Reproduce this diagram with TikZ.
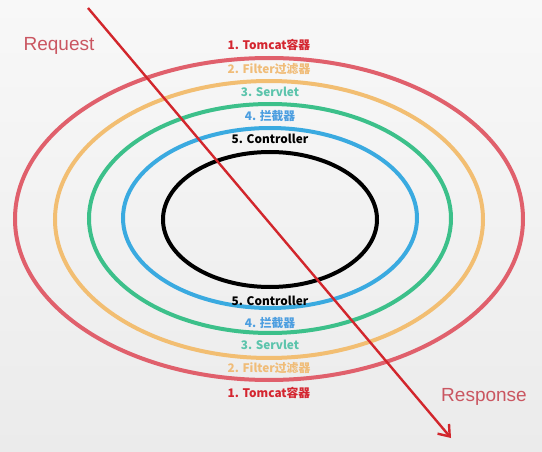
\documentclass[tikz,border=0pt]{standalone}
\usepackage{fontspec}
\setmainfont{Liberation Sans}
\newfontfamily\cjk{Noto Sans CJK SC}
\usepackage{tikz}
\usetikzlibrary{arrows.meta,shapes.geometric,calc,positioning}
\definecolor{ringred}{HTML}{E0606C}
\definecolor{ringorange}{HTML}{F2BE72}
\definecolor{ringgreen}{HTML}{3CC08A}
\definecolor{ringblue}{HTML}{3AAAE0}
\definecolor{txtred}{HTML}{D42630}
\definecolor{txtorange}{HTML}{F0BC78}
\definecolor{txtgreen}{HTML}{5CC4AC}
\definecolor{txtblue}{HTML}{4C9EE0}
\definecolor{flowred}{HTML}{D2262C}
\definecolor{bgtop}{HTML}{F8F8F8}
\definecolor{bgbottom}{HTML}{EBEBEB}
\tikzstyle{ring}  =[ellipse, draw, line width=4pt, inner sep=0pt,
                    outer sep=0pt]
\tikzstyle{layer} =[inner sep=1pt, fill=none, draw=none,
                    font=\cjk\bfseries\fontsize{11.8}{12}\selectfont]
\tikzstyle{flow}  =[draw=flowred, line width=2.4pt,
                    -{Straight Barb[length=10pt,width=15pt,line width=2.4pt]}]
\tikzstyle{way}   =[inner sep=1pt, text=ringred!90!black,
                    font=\fontsize{19}{20}\selectfont]

\begin{document}
\begin{tikzpicture}[x=1pt, y=-1pt]
            \shade[top color=bgtop, bottom color=bgbottom] (0,0) rectangle (542,452);
            \useasboundingbox (0,0) rectangle (542,452);
            \begin{scope}
                \node (e1) [ring, draw=ringred, minimum width=508pt, minimum height=322pt] at (269,219) {};
                \node (e2) [ring, draw=ringorange, minimum width=428pt, minimum height=277pt] at (269,219.5) {};
                \node (e3) [ring, draw=ringgreen, minimum width=362pt, minimum height=229pt] at (270,218.5) {};
                \node (e4) [ring, draw=ringblue, minimum width=294pt, minimum height=180pt] at (270,218) {};
                \node (e5) [ring, draw=black, minimum width=214pt, minimum height=135pt] at (270,219.5) {};
                % labels above the rings
                \node (t1) [layer, text=txtred] at ($(e1.north)+(0,-13)$) {1. Tomcat容器};
                \node (t2) [layer, text=txtorange] at ($(e2.north)+(0,-11.5)$) {2. Filter过滤器};
                \node (t3) [layer, text=txtgreen] at ($(e3.north)+(0,-12)$) {3. Servlet};
                \node (t4) [layer, text=txtblue] at ($(e4.north)+(0,-11.5)$) {4. 拦截器};
                \node (t5) [layer, text=black] at ($(e5.north)+(0,-13)$) {5. Controller};
                % labels below the rings
                \node (b5) [layer, text=black] at ($(e5.south)+(0,13.5)$) {5. Controller};
                \node (b4) [layer, text=txtblue] at ($(e4.south)+(0,15)$) {4. 拦截器};
                \node (b3) [layer, text=txtgreen] at ($(e3.south)+(0,12)$) {3. Servlet};
                \node (b2) [layer, text=txtorange] at ($(e2.south)+(0,10)$) {2. Filter过滤器};
                \node (b1) [layer, text=txtred] at ($(e1.south)+(0,13)$) {1. Tomcat容器};
                % request in, response out
                \coordinate (in) at (88,8);
                \coordinate (out) at (451,438);
                \node (req) [way] at (59,46) {Request};
                \node (res) [way] at (484,397) {Response};
                \draw[flow] (in) to (out);
            \end{scope}
        \end{tikzpicture}
\end{document}
